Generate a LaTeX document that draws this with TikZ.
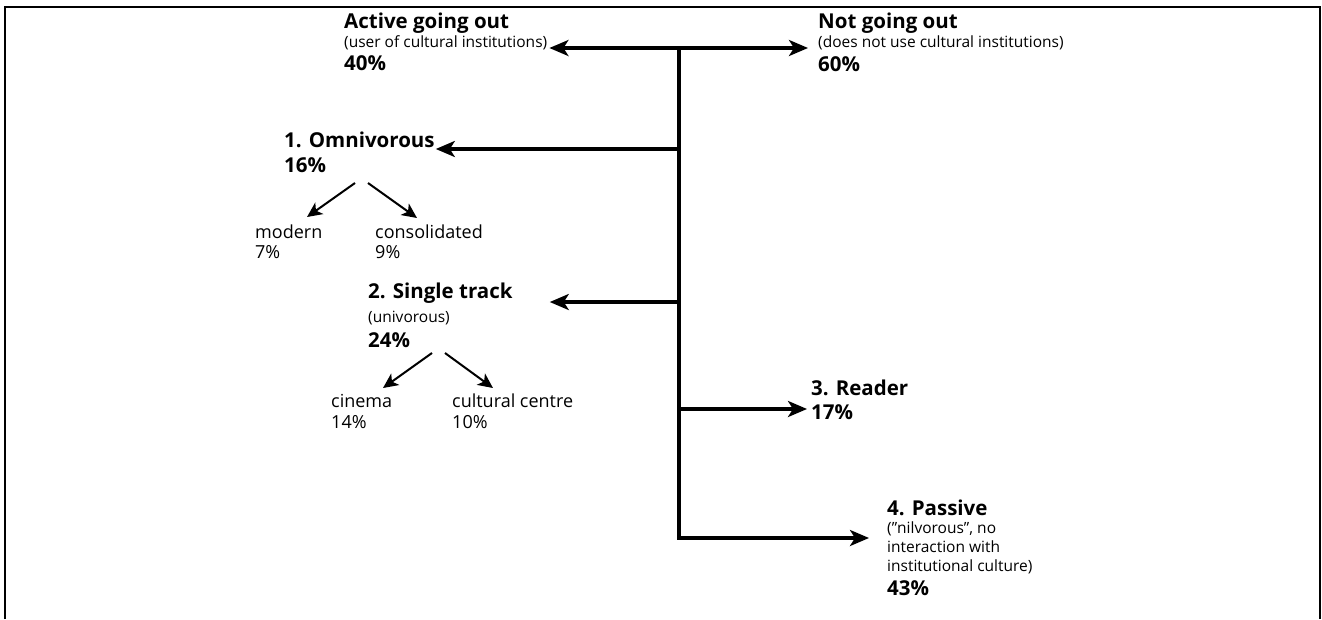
\documentclass[tikz,border=0pt]{standalone}
\usepackage{fontspec}
\setmainfont{Open Sans}
\usetikzlibrary{arrows.meta}

\begin{document}
\begin{tikzpicture}[
    x=1pt, y=-1pt,
    head/.style={-{Stealth[length=19pt,width=16pt,inset=5pt]}},
    title/.style={anchor=base west, inner sep=0pt, font=\fontsize{20.5}{24}\selectfont\bfseries},
    note/.style={anchor=base west, inner sep=0pt, font=\fontsize{15.5}{19}\selectfont},
    pct/.style={title},
    leaf/.style={anchor=base west, inner sep=0pt, font=\fontsize{18}{21}\selectfont},
    trunk/.style={line width=3.2pt},
    split/.style={line width=2pt, -{Stealth[length=15pt,width=14pt,inset=4pt]}}
]
\useasboundingbox (0,0) rectangle (1322,619);
\draw[line width=2.5pt] (5,619) -- (5,7) -- (1320,7) -- (1320,619);

% Nodes
\node[title] (act) at (344,28) {Active going out};
\node[note] (actsub) at (344,47) {(user of cultural institutions)};
\node[pct] (actpct) at (344,70) {40\%};

\node[title] (nogo) at (818,28) {Not going out};
\node[note] (nogosub) at (818,47) {(does not use cultural institutions)};
\node[pct] (nogopct) at (818,71) {60\%};

\node[title] (omni) at (284,147) {1. Omnivorous};
\node[pct] (omnipct) at (284,172) {16\%};
\node[leaf] (modern) at (255,238) {modern};
\node[leaf] (modernpct) at (255,258) {7\%};
\node[leaf] (consol) at (375,238) {consolidated};
\node[leaf] (consolpct) at (375,258) {9\%};

\node[title] (single) at (368,298) {2. Single track};
\node[note] (singlesub) at (368,322) {(univorous)};
\node[pct] (singlepct) at (368,347) {24\%};
\node[leaf] (cinema) at (331,407) {cinema};
\node[leaf] (cinemapct) at (331,428) {14\%};
\node[leaf] (centre) at (452,407) {cultural centre};
\node[leaf] (centrepct) at (452,428) {10\%};

\node[title] (reader) at (811,395) {3. Reader};
\node[pct] (readerpct) at (811,419) {17\%};

\node[title] (passive) at (887,515) {4. Passive};
\node[note] (passivesub) at (887,533) {(”nilvorous”, no};
\node[note] (passivesubb) at (887,552) {interaction with};
\node[note] (passivesubc) at (887,571) {institutional culture)};
\node[pct] (passivepct) at (887,595) {43\%};

% Trunk
\coordinate (top) at (679,48);
\coordinate (j1) at (679,149);
\coordinate (j2) at (679,302);
\coordinate (j3) at (679,409);
\coordinate (j4) at (679,538);

% Connections
\draw[trunk, head] (top) -- ([xshift=2pt]actsub.east |- top);
\draw[trunk, head] (top) -- ([xshift=-10pt]nogosub.west |- top);
\draw[trunk, head] (top) -- (j4) -- ([xshift=-18pt]passivesub.west |- j4);
\draw[trunk, head] (j1) -- ([xshift=1pt]omni.east |- j1);
\draw[trunk, head] (j2) -- ([xshift=37pt]single.east |- j2);
\draw[trunk, head] (j3) -- ([xshift=-4pt]reader.west |- j3);

\draw[split] ([shift={(71,11)}]omnipct.base west) -- ([shift={(52,-21)}]modern.base west);
\draw[split] ([shift={(84,11)}]omnipct.base west) -- ([shift={(42,-20)}]consol.base west);
\draw[split] ([shift={(64,6)}]singlepct.base west) -- ([shift={(52,-19)}]cinema.base west);
\draw[split] ([shift={(77,6)}]singlepct.base west) -- ([shift={(41,-19)}]centre.base west);

\end{tikzpicture}
\end{document}
